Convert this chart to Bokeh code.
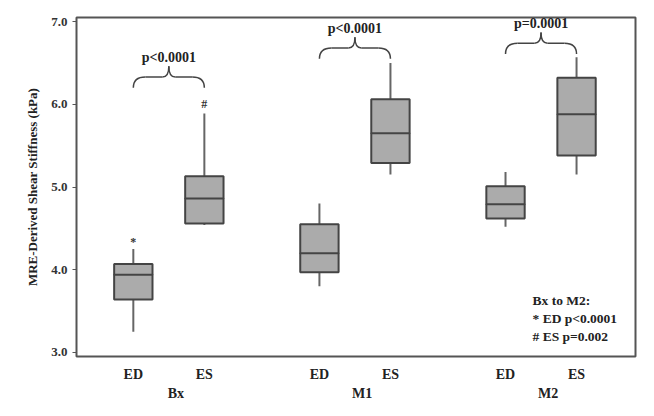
from bokeh.plotting import figure
from bokeh.models import FixedTicker, LinearAxis, Range1d, PrintfTickFormatter
from bokeh.core.properties import value
from bokeh.embed import file_html
from bokeh.resources import INLINE

# ---- data ----
groups = ["Bx", "M1", "M2"]
phases = ["ED", "ES", "ED", "ES", "ED", "ES"]
group_centers = [0.0, 2.62, 5.24]
x_pos = [-0.5, 0.5, 2.12, 3.12, 4.74, 5.74]
whisk_low = [3.25, 4.54, 3.80, 5.15, 4.52, 5.15]
q1 = [3.64, 4.56, 3.97, 5.29, 4.62, 5.38]
median = [3.94, 4.86, 4.20, 5.65, 4.79, 5.88]
q3 = [4.07, 5.13, 4.55, 6.06, 5.01, 6.32]
whisk_high = [4.25, 5.89, 4.80, 6.50, 5.18, 6.57]

mark_x = [-0.5, 0.5]
mark_y = [4.33, 6.00]
mark_txt = ["*", "#"]

brace_x0 = [-0.5, 2.12, 4.74]
brace_x1 = [0.5, 3.12, 5.74]
brace_y = [6.20, 6.55, 6.61]
brace_label = ["p<0.0001", "p<0.0001", "p=0.0001"]

note_lines = ["Bx to M2:", "* ED p<0.0001", "# ES p=0.002"]
note_x = 5.12
note_y = [3.63, 3.41, 3.19]

FONT = "Liberation Serif"
BOXW = 0.54

p = figure(width=646, height=412, output_backend="svg", toolbar_location=None,
           x_range=Range1d(-1.30, 6.57), y_range=Range1d(2.95, 7.05),
           min_border_left=76, min_border_right=11, min_border_top=17, min_border_bottom=56)
p.xgrid.visible = False
p.ygrid.visible = False
p.outline_line_color = "#555555"
p.outline_line_width = 2

# y axis
p.yaxis.ticker = FixedTicker(ticks=[3, 4, 5, 6, 7])
p.yaxis.formatter = PrintfTickFormatter(format="%.1f")
p.yaxis.axis_label = "MRE-Derived Shear Stiffness (kPa)"
p.yaxis.axis_label_text_font = FONT
p.yaxis.axis_label_text_font_style = "bold"
p.yaxis.axis_label_text_font_size = "13px"
p.yaxis.axis_label_text_color = "#222222"
p.yaxis.axis_label_standoff = 8
p.yaxis.major_label_text_font = FONT
p.yaxis.major_label_text_font_style = "bold"
p.yaxis.major_label_text_font_size = "13px"
p.yaxis.major_label_text_color = "#333333"
p.yaxis.axis_line_color = None
p.yaxis.major_tick_line_color = "#555555"
p.yaxis.major_tick_out = 4
p.yaxis.major_tick_in = 0
p.yaxis.minor_tick_line_color = None

# x axis: phase labels
p.xaxis.ticker = FixedTicker(ticks=x_pos)
p.xaxis.major_label_overrides = {x: ph for x, ph in zip(x_pos, phases)}
p.xaxis.major_label_text_font = FONT
p.xaxis.major_label_text_font_style = "bold"
p.xaxis.major_label_text_font_size = "14px"
p.xaxis.major_label_text_color = "#222222"
p.xaxis.axis_line_color = None
p.xaxis.major_tick_line_color = None
p.xaxis.minor_tick_line_color = None
p.xaxis.major_label_standoff = 4

# group axis
gx = [c + 0.1 for c in group_centers]
gax = LinearAxis(ticker=FixedTicker(ticks=gx),
                 major_label_overrides={x: g for x, g in zip(gx, groups)})
gax.major_label_text_font = FONT
gax.major_label_text_font_style = "bold"
gax.major_label_text_font_size = "14px"
gax.major_label_text_color = "#222222"
gax.axis_line_color = None
gax.major_tick_line_color = None
gax.minor_tick_line_color = None
gax.major_label_standoff = -5
p.add_layout(gax, "below")

# whiskers
p.segment(x_pos, whisk_low, x_pos, q1, line_color="#666666", line_width=2)
p.segment(x_pos, q3, x_pos, whisk_high, line_color="#666666", line_width=2)
# boxes
p.vbar(x=x_pos, width=BOXW, bottom=q1, top=q3, fill_color="#ababab",
       line_color="#444444", line_width=2)
p.rect(x=x_pos, y=median, width=BOXW, height=0.0001, line_color="#444444",
       line_width=2, fill_color=None)

# markers
p.text(mark_x, mark_y, text=mark_txt, text_font=value(FONT), text_font_style="bold",
       text_font_size="12px", text_align="center", text_baseline="middle",
       text_color="#333333")

# braces
dxe = 0.17
dxt = 0.09
hh = 0.13
for x0, x1, yb, lab in zip(brace_x0, brace_x1, brace_y, brace_label):
    xc = (x0 + x1) / 2
    ym = yb + hh
    yt = ym + hh
    p.quadratic(x0=[x0, xc - dxt, xc + dxt, x1], y0=[yb, ym, ym, yb],
                x1=[x0 + dxe, xc, xc, x1 - dxe], y1=[ym, yt, yt, ym],
                cx=[x0, xc, xc, x1], cy=[ym, ym, ym, ym],
                line_color="#444444", line_width=1.5)
    p.segment([x0 + dxe, xc + dxt], [ym, ym], [xc - dxt, x1 - dxe], [ym, ym],
              line_color="#444444", line_width=1.5)
    p.text([xc], [yt + 0.11], text=[lab], text_font=value(FONT), text_font_style="bold",
           text_font_size="14px", text_align="center", text_baseline="middle",
           text_color="#222222")

# note
p.text([note_x] * 3, note_y, text=note_lines, text_font=value(FONT), text_font_style="bold",
       text_font_size="13.5px", text_align="left", text_baseline="middle",
       text_color="#222222")

open("out.html", "w").write(file_html(p, INLINE))
